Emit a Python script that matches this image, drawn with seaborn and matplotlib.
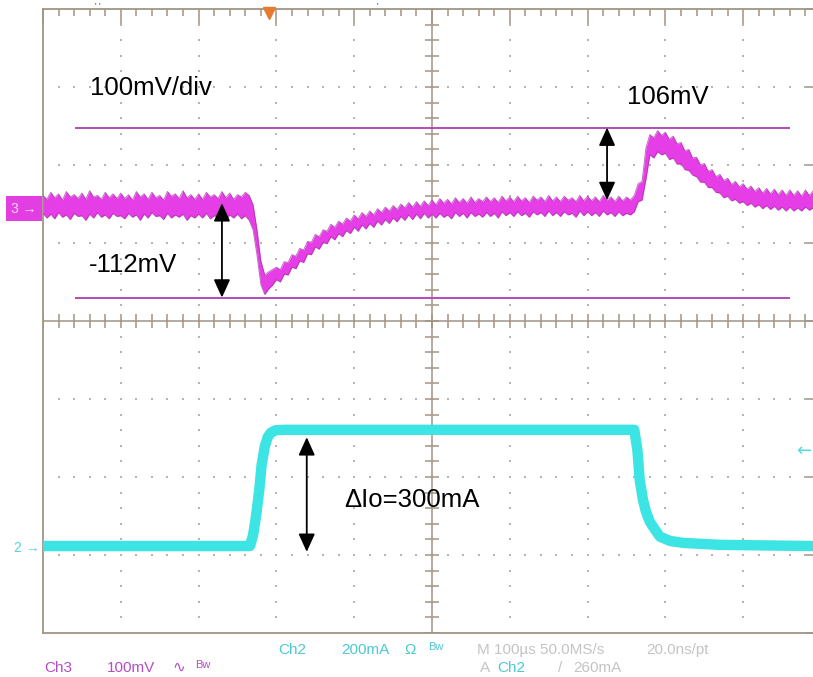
import numpy as np
import matplotlib
matplotlib.use("Agg")
import matplotlib.pyplot as plt
import seaborn as sns

sns.set_style("white")
plt.rcParams['font.family'] = ['Liberation Sans', 'DejaVu Sans']

# --- Data ---
# time axis in us (100us/div), screen starts at 0us
ch3_time_us = list(range(0, 995, 5))

# Ch3 (Vout, AC) trace band, upper / lower edge in mV around its marker level
ch3_upper_mV = [
    14, 9, 18, 11, 16, 8, 19, 12, 15, 10, 17, 9, 20, 12, 14, 9, 18, 11, 16, 10,
    17, 10, 15, 8, 19, 12, 16, 9, 18, 11, 14, 8, 19, 13, 16, 10, 20, 11, 15, 9,
    16, 9, 18, 12, 15, 10, 19, 11, 17, 9, 15, 12, 18, 14, 2, -30, -70, -88, -84, -81,
    -78, -81, -71, -72, -62, -64, -54, -56, -45, -46, -36, -39, -30, -32, -23, -27, -19, -23, -15, -19,
    -11, -16, -8, -13, -6, -11, -3, -8, -1, -6, 1, -4, 3, -2, 5, -1, 6, 0, 7, 1,
    8, 2, 10, 4, 9, 3, 11, 5, 10, 4, 12, 5, 10, 6, 12, 6, 11, 5, 13, 7,
    12, 6, 13, 7, 11, 5, 13, 8, 12, 6, 14, 7, 12, 6, 13, 8, 11, 6, 14, 7,
    13, 7, 12, 6, 14, 8, 12, 6, 13, 7, 12, 8, 14, 29, 32, 75, 92, 88, 97, 91,
    95, 86, 90, 80, 82, 71, 73, 62, 63, 53, 55, 45, 47, 38, 41, 33, 36, 28, 32, 25,
    29, 22, 26, 19, 24, 17, 23, 16, 22, 15, 21, 14, 21, 14, 20, 13, 21, 14, 20,
]
ch3_lower_mV = [
    -9, -15, -10, -16, -8, -14, -11, -17, -9, -13, -12, -18, -10, -15, -8, -14, -11, -16, -9, -13,
    -12, -16, -9, -14, -11, -18, -10, -15, -8, -13, -12, -17, -9, -15, -11, -14, -10, -18, -12, -15,
    -10, -15, -9, -16, -12, -14, -8, -17, -11, -15, -10, -16, -12, -18, -30, -62, -100, -113, -106, -101,
    -94, -97, -87, -88, -78, -80, -70, -72, -61, -62, -52, -55, -46, -48, -39, -43, -35, -39, -31, -35,
    -27, -32, -24, -29, -22, -27, -19, -24, -17, -22, -15, -20, -13, -18, -11, -17, -10, -16, -9, -15,
    -10, -15, -9, -14, -11, -16, -8, -13, -9, -15, -8, -13, -10, -14, -8, -13, -9, -15, -7, -12,
    -8, -13, -7, -12, -9, -14, -7, -11, -8, -13, -6, -12, -8, -13, -7, -11, -9, -14, -6, -12,
    -7, -12, -8, -13, -6, -11, -8, -13, -7, -12, -9, -11, -7, 6, 8, 35, 66, 62, 70, 66,
    68, 60, 62, 54, 55, 47, 46, 40, 38, 31, 31, 24, 24, 18, 17, 11, 13, 7, 9, 4,
    6, 1, 4, -1, 2, -3, 1, -4, 0, -5, -1, -6, -1, -6, -2, -6, -1, -5, -2,
]

# Ch2 (load current step) in mA
ch2_time_us = [0, 266, 270, 274, 278, 281, 285, 289, 293, 299, 311,
               760, 764, 767, 771, 775, 780, 787, 793, 806, 823, 870, 990]
ch2_current_mA = [0, 0, 28, 79, 144, 208, 255, 280, 291, 297, 298,
                  298, 246, 169, 120, 88, 62, 41, 24, 13, 8, 3, 0]

# cursor lines on Ch3 (mV) and their extent in time
ref_lines_mV = [101, -118]
ref_line_span_us = [41, 960]

# measurement arrows: (time, from, to)
arrow_undershoot = (230, 4, -117)    # mV
arrow_overshoot = (725, 8, 101)      # mV
arrow_step = (339, -15, 279)         # mA

trigger_time_us = 290
trigger_level_mA = 245

# screen scaling (divisions)
ch3_offset_div = 1.47
ch3_mV_per_div = 100
ch2_offset_div = -2.885
ch2_mA_per_div = 200


def ch3_y(v):
    return ch3_offset_div + np.asarray(v, dtype=float) / ch3_mV_per_div


def ch2_y(v):
    return ch2_offset_div + np.asarray(v, dtype=float) / ch2_mA_per_div


frame_col = '#a09484'
dot_col = '#b4b4b4'
magenta = '#e63ee6'
magenta_edge = '#a62ea6'
cyan = '#3de4e4'

fig = plt.figure(figsize=(8.13, 6.77), dpi=100)
ax = fig.add_axes([43 / 813, 44 / 677, 778 / 813, 624 / 677])
ax.set_xlim(0, 1000)
ax.set_ylim(-4, 4)

# graticule frame with scope style ticks
for s in ax.spines.values():
    s.set_color(frame_col)
    s.set_linewidth(1.3)
ax.set_xticks(np.arange(0, 1001, 100))
ax.set_xticks(np.arange(0, 1001, 20), minor=True)
ax.set_yticks(np.arange(-4, 4.01, 1))
ax.set_yticks(np.arange(-4, 4.01, 0.2), minor=True)
ax.tick_params(which='both', direction='in', top=True, right=True,
               labelbottom=False, labelleft=False, color=frame_col, width=1.1)
ax.tick_params(which='major', length=10.5)
ax.tick_params(which='minor', length=5)

# dotted grid
gx = np.arange(100, 1000, 100)
gx = gx[gx != 500]
gy = np.arange(-3, 4, 1)
gy = gy[gy != 0]
dots_y = np.arange(-3.8, 3.9, 0.2)
dots_x = np.arange(20, 1000, 20)
px = np.concatenate([np.repeat(gx, len(dots_y)), np.tile(dots_x, len(gy))])
py = np.concatenate([np.tile(dots_y, len(gx)), np.repeat(gy, len(dots_x))])
ax.scatter(px, py, s=2.2, marker='s', color=dot_col, linewidths=0, zorder=1)

# centre cross with minor ticks
ax.axvline(500, color=frame_col, lw=1.1, zorder=1)
ax.axhline(0, color=frame_col, lw=1.1, zorder=1)
ax.hlines(np.arange(-4, 4.01, 0.2), 491, 509, color=frame_col, lw=1.1, zorder=1)
ax.vlines(np.arange(0, 1001, 20), -0.09, 0.09, color=frame_col, lw=1.1, zorder=1)

# cursor lines
ax.hlines(ch3_y(ref_lines_mV), ref_line_span_us[0], ref_line_span_us[1],
          color='#b84ab8', lw=1.4, zorder=2)

# Ch3 trace (noisy band)
y_up = ch3_y(ch3_upper_mV)
y_lo = ch3_y(ch3_lower_mV)
ax.fill_between(ch3_time_us, y_lo, y_up, color=magenta, lw=0, zorder=3)
sns.lineplot(x=ch3_time_us, y=y_up, color=magenta_edge, lw=0.7, alpha=0.7,
             ax=ax, estimator=None, sort=False, legend=False, zorder=4)
sns.lineplot(x=ch3_time_us, y=y_lo, color=magenta_edge, lw=0.7, alpha=0.7,
             ax=ax, estimator=None, sort=False, legend=False, zorder=4)

# Ch2 trace
sns.lineplot(x=ch2_time_us, y=ch2_y(ch2_current_mA), color=cyan, lw=7.5,
             ax=ax, estimator=None, sort=False, legend=False, zorder=3,
             solid_capstyle='butt', solid_joinstyle='round')

# measurement arrows
astyle = dict(arrowstyle='<|-|>,head_length=0.55,head_width=0.25', color='black',
              lw=1.3, mutation_scale=20, shrinkA=0, shrinkB=0)
for t, a, b in (arrow_undershoot, arrow_overshoot):
    ax.annotate('', xy=(t, ch3_y(b)), xytext=(t, ch3_y(a)), arrowprops=astyle, zorder=6)
t, a, b = arrow_step
ax.annotate('', xy=(t, ch2_y(b)), xytext=(t, ch2_y(a)), arrowprops=astyle, zorder=6)

# annotations
big = 18.5
ax.text(60, 2.897, '100mV/div', fontsize=big, va='baseline', color='black', zorder=7)
ax.text(59, 0.628, '-112mV', fontsize=big, va='baseline', color='black', zorder=7)
ax.text(751, 2.782, '106mV', fontsize=big, va='baseline', color='black', zorder=7)
ax.text(387, -2.385, 'ΔIo=300mA', fontsize=big, va='baseline', color='black', zorder=7)

# channel markers
ax.text(-8, ch3_offset_div - 0.03, '3 →', fontsize=10, color='#ffd6ff', ha='right',
        va='center', clip_on=False,
        bbox=dict(boxstyle='square,pad=0.4', fc='#e23ee2', ec='none'))
ax.text(-4, ch2_offset_div - 0.03, '2 →', fontsize=10, color='#58d4dc', ha='right',
        va='center', clip_on=False)
ax.text(968, ch2_y(trigger_level_mA), '←', fontsize=13, color='#58d8e0',
        family='DejaVu Sans', ha='left', va='center', clip_on=False)
ax.plot([trigger_time_us], [3.95], marker='v', ms=9, color='#e87a2e',
        clip_on=False, zorder=8)

# tiny marks above the frame
fig.text(95 / 813, 1 - 7 / 677, "' '", fontsize=6, color='black', va='center')
fig.text(376 / 813, 1 - 6 / 677, "'", fontsize=6, color='black', va='center')

# readout line under the screen
def readout(x, y, s, col, size=11):
    fig.text(x / 813, 1 - y / 677, s, color=col, fontsize=size, va='center')


cy_txt = '#4cc8d4'
mg_txt = '#b64cc4'
gr_txt = '#c4c4c4'
readout(278, 650, 'Ch2', cy_txt)
readout(341, 650, '200mA', cy_txt)
readout(404, 650, 'Ω', cy_txt)
readout(428, 647, 'Bw', cy_txt, 8)
readout(477, 650, 'M 100µs 50.0MS/s', gr_txt)
readout(646, 650, '20.0ns/pt', gr_txt)
readout(44, 668, 'Ch3', mg_txt)
readout(107, 668, '100mV', mg_txt)
readout(172, 668, '∿', mg_txt)
readout(195, 665, 'Bw', mg_txt, 8)
readout(480, 668, 'A', gr_txt)
readout(497, 668, 'Ch2', cy_txt)
readout(558, 668, '/', gr_txt)
readout(573, 668, '260mA', gr_txt)

fig.savefig('out.png', dpi=100)
